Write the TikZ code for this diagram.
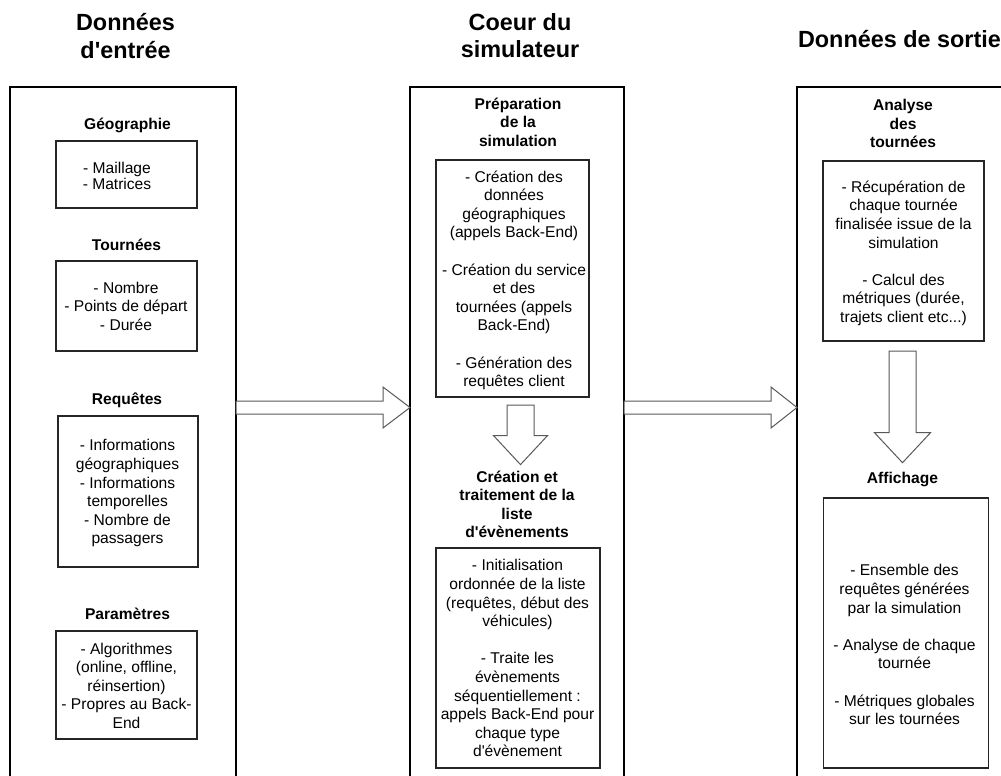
\documentclass[tikz,border=0pt]{standalone}
\usepackage{fontspec}
\setmainfont{Liberation Sans}[Ligatures=TeXOff]
\usetikzlibrary{calc}
\begin{document}
\begin{tikzpicture}[x=1pt,y=-1pt,
  every node/.style={inner sep=0pt,outer sep=0pt},
  colbox/.style={draw=black,line width=1.2pt,anchor=north west},
  itembox/.style={draw=black!85,line width=1.1pt},
  body/.style={align=center,text=black,font=\fontsize{15.6}{18.6}\selectfont,
    execute at begin node=\strut,execute at end node=\strut},
  tightbody/.style={body,font=\fontsize{15.6}{16}\selectfont},
  head/.style={body,font=\fontsize{15.6}{18.6}\selectfont\bfseries},
  bigtitle/.style={align=center,text=black,font=\fontsize{23.4}{27.5}\selectfont\bfseries,
    execute at begin node=\strut,execute at end node=\strut},
  blockarrow/.style={draw=black!65,fill=white,line width=1pt,line join=miter}]
\clip (0,0) rectangle (1001,776);

% column titles
\node[bigtitle] (tin) at (125.5,39.8) {Données\\d'entrée};
\node[bigtitle] (tcore) at (520,39.8) {Coeur du\\simulateur};
\node[bigtitle,anchor=base west] (tout) at (798,48) {Données de sortie};

% column boxes
\node[colbox,minimum width=226,minimum height=740] (inbox) at (10,87) {};
\node[colbox,minimum width=214,minimum height=740] (core) at (410,87) {};
\node[colbox,minimum width=260,minimum height=740] (outbox) at (797,87) {};

% ---- input column
\node[head] (hgeo) at (127.5,126) {Géographie};
\node[itembox,minimum width=141,minimum height=67] (geobox) at (126.5,174.5) {};
\node[tightbody] (geotxt) at (117,178.4) {- Maillage\\- Matrices};

\node[head] (htour) at (126.5,247) {Tournées};
\node[itembox,minimum width=141,minimum height=90] (tourbox) at (126.5,306) {};
\node[body] (tourtxt) at (126,309) {- Nombre\\- Points de départ\\- Durée};

\node[head] (hreq) at (127,401) {Requêtes};
\node[itembox,minimum width=140,minimum height=151] (reqbox) at (128,491.5) {};
\node[body] (reqtxt) at (127.5,494.5) {- Informations\\géographiques\\- Informations\\temporelles\\- Nombre de\\passagers};

\node[head] (hpar) at (127.5,616) {Paramètres};
\node[itembox,minimum width=141,minimum height=108] (parbox) at (126.5,685) {};
\node[body] (partxt) at (126.5,688.5) {- Algorithmes\\(online, offline,\\réinsertion)\\- Propres au Back-\\End};

% ---- core column
\node[head] (hprep) at (518,125) {Préparation\\de la\\simulation};
\node[itembox,minimum width=153,minimum height=237] (prepbox) at (512.5,278.5) {};
\node[body] (preptxt) at (514,281.5) {- Création des\\données\\géographiques\\(appels Back-End)\\[18.6pt]- Création du service\\et des\\tournées (appels\\Back-End)\\[18.6pt]- Génération des\\requêtes client};

\node[head] (hevt) at (517,507) {Création et\\traitement de la\\liste\\d'évènements};
\node[itembox,minimum width=164,minimum height=220] (evtbox) at (518,658) {};
\node[body] (evttxt) at (517.5,661) {- Initialisation\\ordonnée de la liste\\(requêtes, début des\\véhicules)\\[18.6pt]- Traite les\\évènements\\séquentiellement :\\appels Back-End pour\\chaque type\\d'évènement};

% ---- output column
\node[head] (hana) at (903,126.5) {Analyse\\des\\tournées};
\node[itembox,minimum width=161,minimum height=180] (anabox) at (903.5,251) {};
\node[body] (anatxt) at (903.5,254.5) {- Récupération de\\chaque tournée\\finalisée issue de la\\simulation\\[18.6pt]- Calcul des\\métriques (durée,\\trajets client etc...)};

\node[head] (haff) at (902.5,480) {Affichage};
\node[itembox,minimum width=165,minimum height=270] (affbox) at (906,633) {};
\node[body] (afftxt) at (904.5,647.5) {- Ensemble des\\requêtes générées\\par la simulation\\[18.6pt]- Analyse de chaque\\tournée\\[18.6pt]- Métriques globales\\sur les tournées};

% ---- block arrows between columns
\coordinate (a1tail) at ($(inbox.north east)+(0,320.5)$);
\coordinate (a1tip) at ($(core.north west)+(0,320.5)$);
\draw[blockarrow] ($(a1tail)+(0,-6.5)$) -- ($(a1tip)+(-27,-6.5)$) -- ($(a1tip)+(-27,-20.5)$)
  -- (a1tip) -- ($(a1tip)+(-27,20.5)$) -- ($(a1tip)+(-27,6.5)$) -- ($(a1tail)+(0,6.5)$) -- cycle;

\coordinate (a2tail) at ($(core.north east)+(0,320.5)$);
\coordinate (a2tip) at ($(outbox.north west)+(0,320.5)$);
\draw[blockarrow] ($(a2tail)+(0,-6.5)$) -- ($(a2tip)+(-26,-6.5)$) -- ($(a2tip)+(-26,-20.5)$)
  -- (a2tip) -- ($(a2tip)+(-26,20.5)$) -- ($(a2tip)+(-26,6.5)$) -- ($(a2tail)+(0,6.5)$) -- cycle;

% ---- block arrows inside columns
\coordinate (d1top) at ($(prepbox.south)+(8,8)$);
\coordinate (d1tip) at ($(hevt.north)+(3.5,-6)$);
\draw[blockarrow] ($(d1top)+(-13.5,0)$) -- ($(d1top)+(13.5,0)$) -- ($(d1tip)+(13.5,-29)$)
  -- ($(d1tip)+(27,-29)$) -- (d1tip) -- ($(d1tip)+(-27,-29)$) -- ($(d1tip)+(-13.5,-29)$) -- cycle;

\coordinate (d2top) at ($(anabox.south)+(-1,10)$);
\coordinate (d2tip) at ($(haff.north)+(0,-8)$);
\draw[blockarrow] ($(d2top)+(-13.5,0)$) -- ($(d2top)+(13.5,0)$) -- ($(d2tip)+(13.5,-30)$)
  -- ($(d2tip)+(28,-30)$) -- (d2tip) -- ($(d2tip)+(-28,-30)$) -- ($(d2tip)+(-13.5,-30)$) -- cycle;
\end{tikzpicture}
\end{document}
